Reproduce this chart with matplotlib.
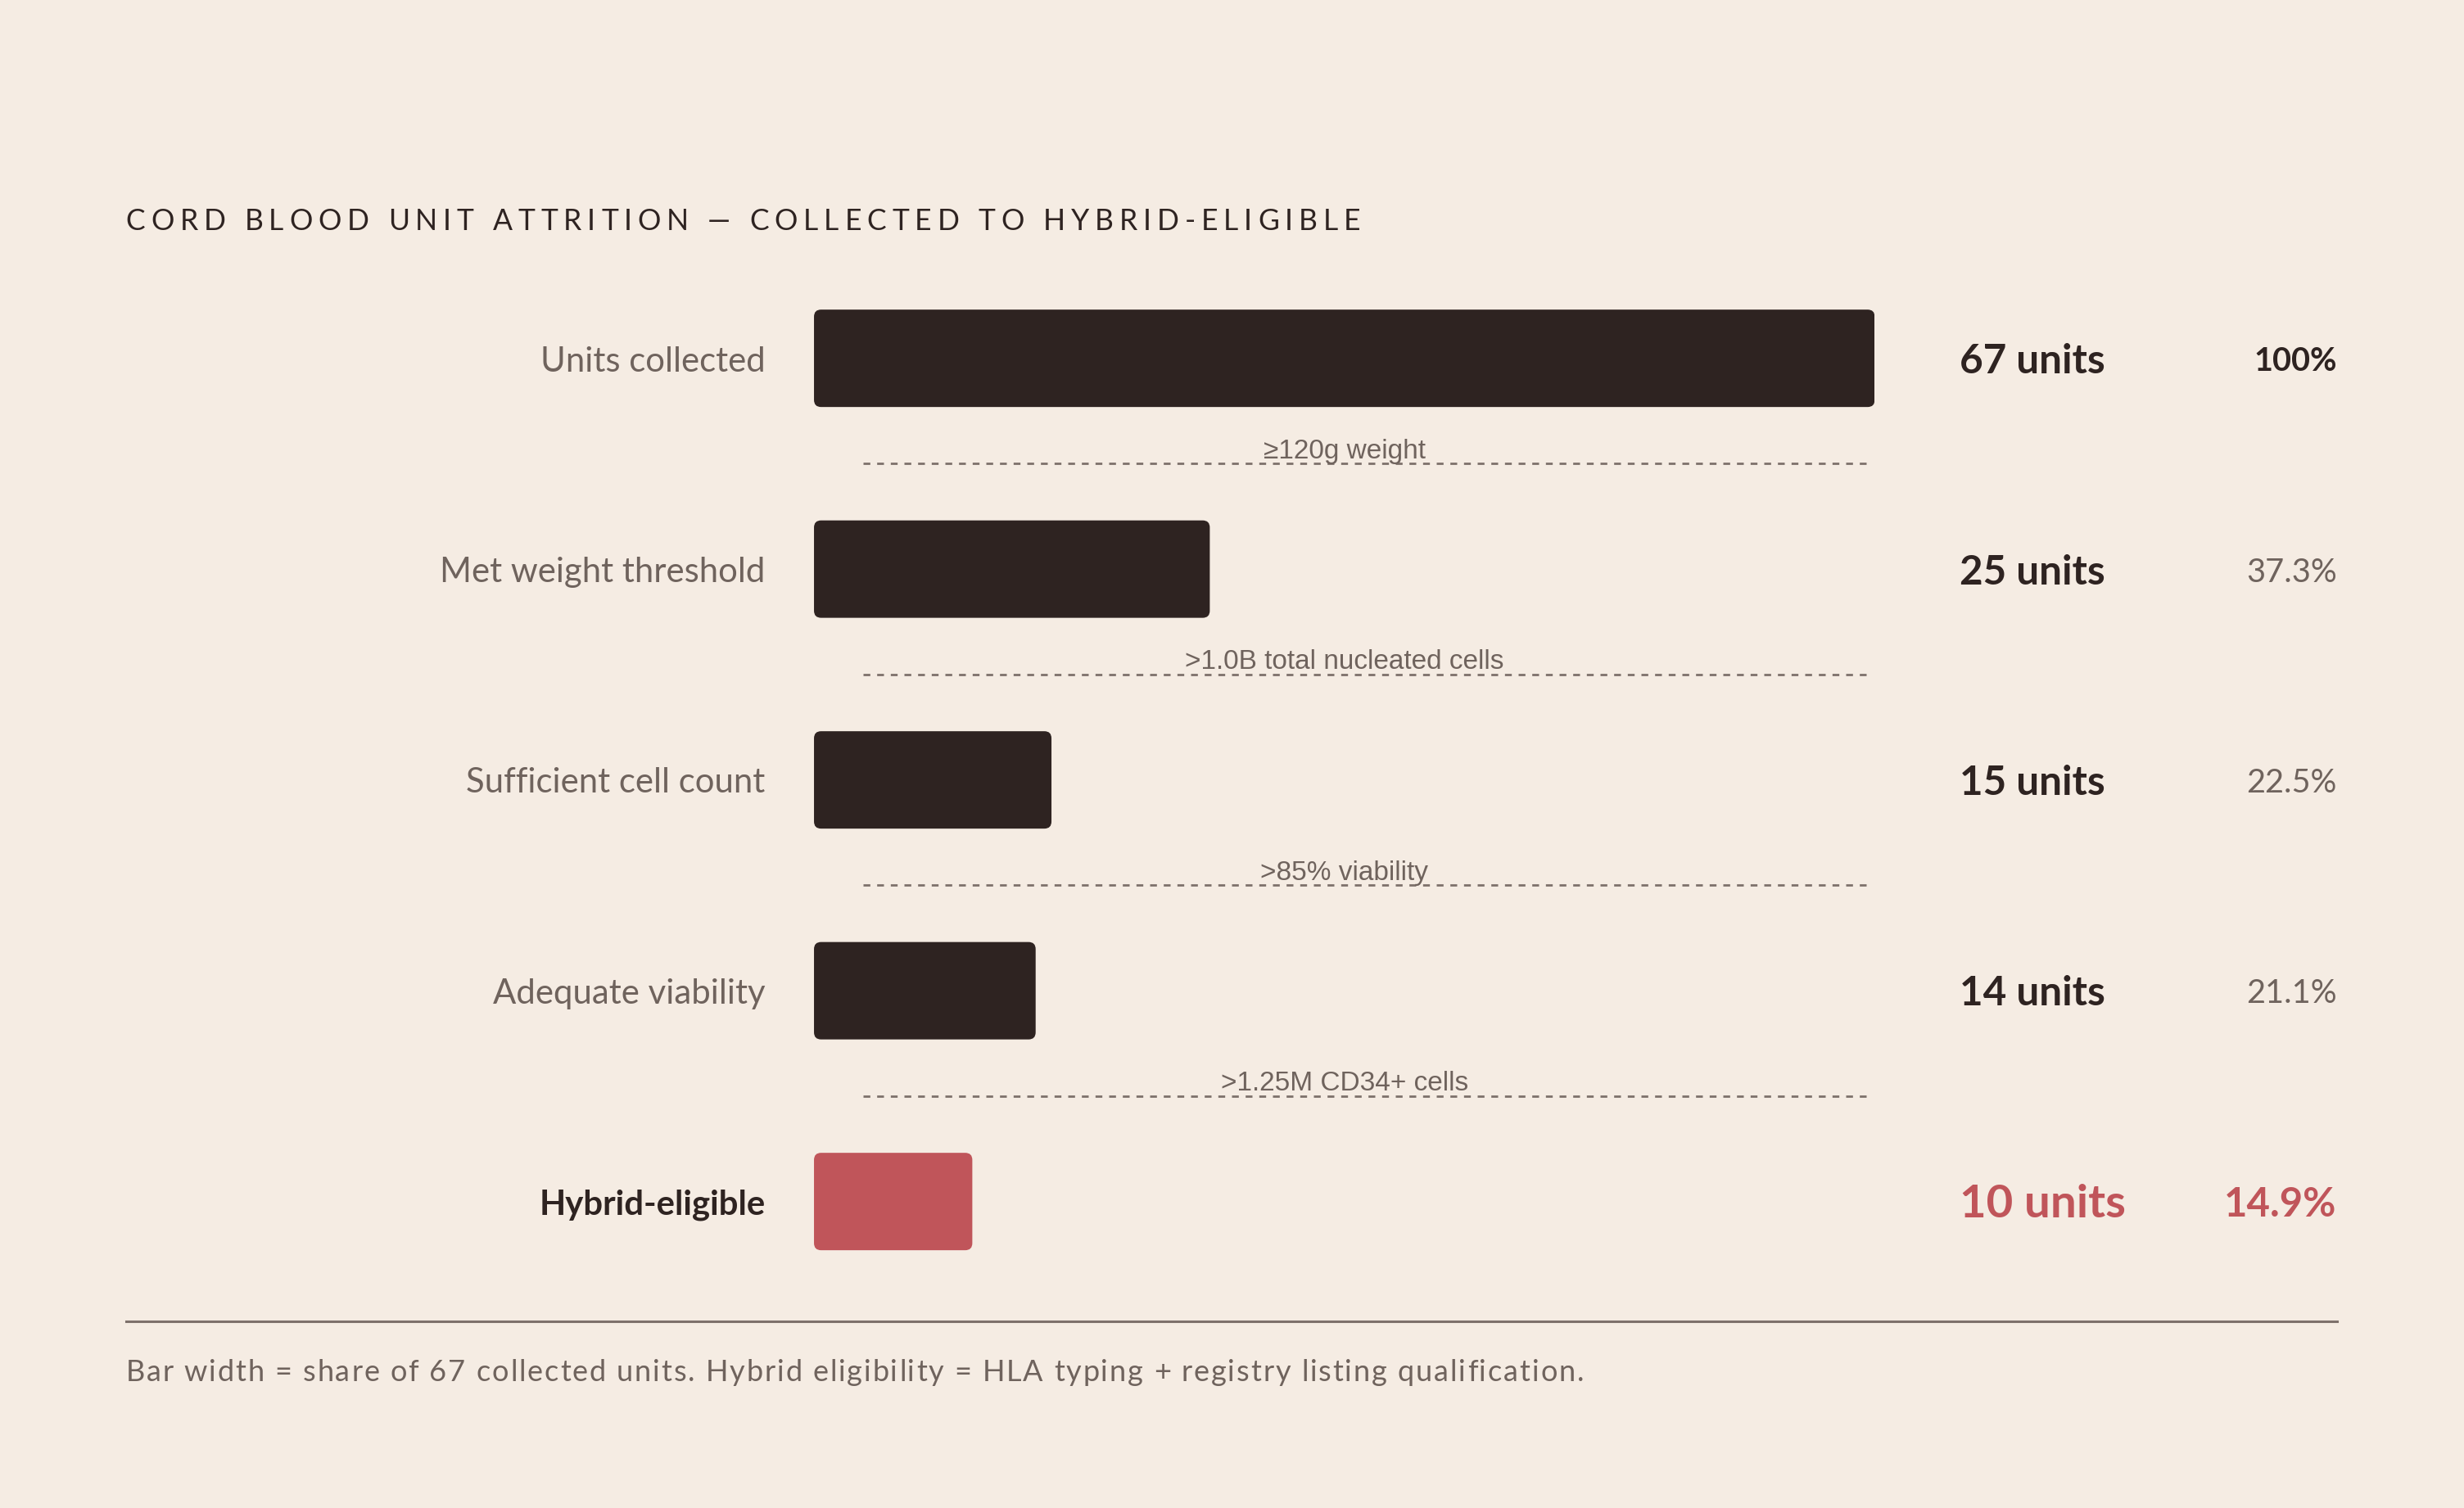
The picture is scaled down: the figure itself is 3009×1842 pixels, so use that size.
import numpy as np
import matplotlib.pyplot as plt
from matplotlib.patches import FancyBboxPatch
from matplotlib.lines import Line2D
from matplotlib.transforms import blended_transform_factory

# data
stages = ["Units collected", "Met weight threshold", "Sufficient cell count",
          "Adequate viability", "Hybrid-eligible"]
units = [67, 25, 15, 14, 10]
pct_labels = ["100%", "37.3%", "22.5%", "21.1%", "14.9%"]
criteria = ["\u2265120g weight", ">1.0B total nucleated cells", ">85% viability",
            ">1.25M CD34+ cells"]
total = 67

BG = "#f5ece3"
DARK = "#2e2321"
GREY = "#6f635d"
RED = "#c0555a"
LINE = "#7d716b"

# reference layout is laid out on a 1568 x 960 grid
RW, RH = 1568.0, 960.0
def fx(x):
    return x / RW
def fy(y):
    return 1 - y / RH

fig = plt.figure(figsize=(15.045, 9.21), dpi=200, facecolor=BG)

# bar area: x 518..1193, rows centred 228..765
row_top, row_bot = 161, 832
ax = fig.add_axes([fx(518), fy(row_bot), fx(1193) - fx(518), (row_bot - row_top) / RH])
ax.set_xlim(0, total)
ax.set_ylim(len(stages) - 0.5, -0.5)
ax.axis("off")
ax.set_facecolor("none")

# px per data unit, for round corners
xpx = 675 / total
ypx = (row_bot - row_top) / len(stages)
rad = 4.5 / xpx
bar_h = 62 / ypx

for i, v in enumerate(units):
    col = RED if i == len(units) - 1 else DARK
    p = FancyBboxPatch((0, i - bar_h / 2), v, bar_h,
                       boxstyle=f"round,pad=0,rounding_size={rad}",
                       mutation_aspect=xpx / ypx,
                       fc=col, ec="none")
    ax.add_patch(p)

# dashed separators with criteria
for i, c in enumerate(criteria):
    ax.axhline(i + 0.5, xmin=31 / 675, xmax=671 / 675, color=LINE, lw=1.0,
               dashes=(3.0, 3.0), clip_on=False)
    ax.text(total / 2, i + 0.5 - 8 / ypx, c, ha="center", va="center",
            fontsize=12, color=GREY, family="Liberation Sans")

tr = blended_transform_factory(fig.transFigure, ax.transData)
dy = 2 / ypx
for i, s in enumerate(stages):
    last = i == len(stages) - 1
    ax.text(fx(487), i + dy, s, transform=tr, ha="right", va="center",
            fontsize=15.1, family="Lato", color=DARK if last else GREY,
            fontweight="bold" if last else "normal", clip_on=False)
    ax.text(fx(1247), i + dy, f"{units[i]} units", transform=tr, ha="left", va="center",
            fontsize=20.3 if last else 17.8, family="Lato", color=RED if last else DARK,
            fontweight="bold", clip_on=False)
    ax.text(fx(1487), i + dy, pct_labels[i], transform=tr, ha="right", va="center",
            fontsize=17.7 if last else 14.3, family="Lato",
            color=RED if last else (DARK if i == 0 else GREY),
            fontweight="bold" if (last or i == 0) else "normal", clip_on=False)

# letter-spaced text helper
renderer = fig.canvas.get_renderer()
def tracked(x, y, s, spacing, **kw):
    W = fig.bbox.width
    px = x / RW * W
    ref = fig.text(0, 0, "ll", **kw)
    wref = ref.get_window_extent(renderer).width
    ref.remove()
    for ch in s:
        t = fig.text(px / W, fy(y), ch, ha="left", va="center", **kw)
        m = fig.text(0, 0, "l" + ch + "l", **kw)
        w = m.get_window_extent(renderer).width - wref
        m.remove()
        px += w + spacing / RW * W

tracked(80, 141, "CORD BLOOD UNIT ATTRITION \u2014 COLLECTED TO HYBRID-ELIGIBLE", 3.6,
        fontsize=12.8, family="Lato", color=DARK)

fig.add_artist(Line2D([fx(80), fx(1487)], [fy(841), fy(841)], color=LINE, lw=1.1,
                      transform=fig.transFigure))

tracked(80, 874, "Bar width = share of 67 collected units. Hybrid eligibility = HLA typing + registry listing qualification.",
        1.0, fontsize=13, family="Lato", color=GREY)

fig.savefig("out.png", dpi=200, facecolor=BG)
